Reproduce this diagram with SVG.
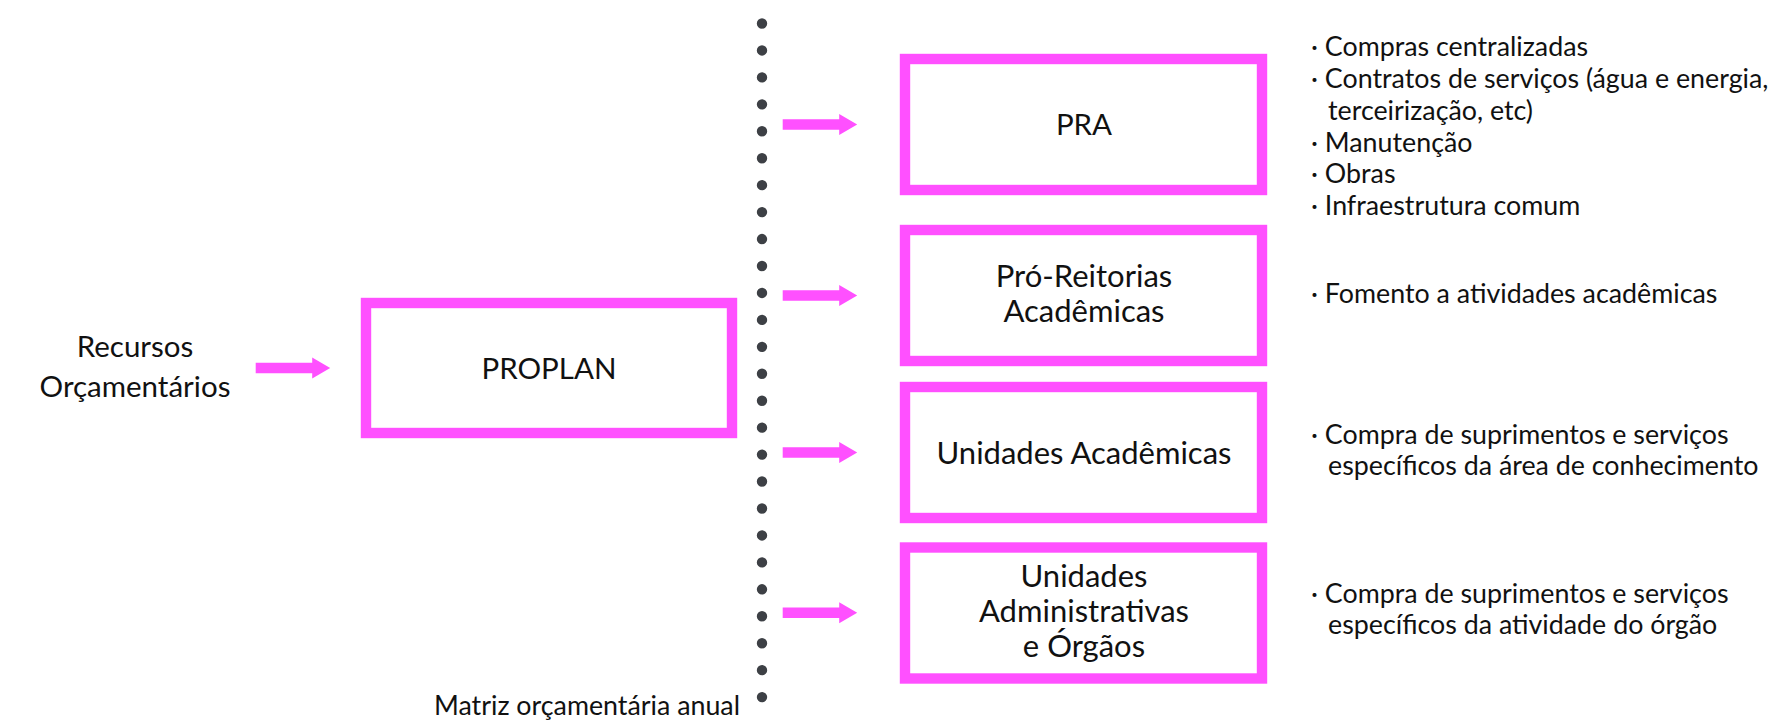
<svg xmlns="http://www.w3.org/2000/svg" xmlns:xlink="http://www.w3.org/1999/xlink" width="1773" height="720" viewBox="0 0 1773 720">
<style>
.box{fill:#ffffff;stroke:#ff50ff;stroke-width:10.4}
.arrow{fill:#ff50ff}
.dots{fill:none;stroke:#3d4045;stroke-width:10.4;stroke-linecap:round;stroke-dasharray:0 26.944}
.lbl{font-family:Lato,"Noto Sans","DejaVu Sans",sans-serif;font-size:31px;fill:#111111;text-anchor:middle}
.caps{font-size:29.5px}
.note{font-family:Lato,"Noto Sans","DejaVu Sans",sans-serif;font-size:26.8px;fill:#111111}
</style>
<defs>
<path id="arr" d="M0,-5.2 H56.5 V-10.5 L74.5,0 L56.5,10.5 V5.2 H0 Z"/>
</defs>
<rect width="1773" height="720" fill="#ffffff"/>
<path class="dots" d="M762,23.5 V697.2"/>
<g id="connectors">
<use href="#arr" xlink:href="#arr" class="arrow" x="255.7" y="368"/>
<use href="#arr" xlink:href="#arr" class="arrow" x="782.7" y="124.5"/>
<use href="#arr" xlink:href="#arr" class="arrow" x="782.7" y="295.5"/>
<use href="#arr" xlink:href="#arr" class="arrow" x="782.7" y="452.5"/>
<use href="#arr" xlink:href="#arr" class="arrow" x="782.7" y="612.7"/>
</g>
<g id="recursos">
<text class="lbl caps" x="135" y="357">Recursos</text>
<text class="lbl caps" x="135" y="397">Orçamentários</text>
</g>
<g id="proplan">
<rect class="box" x="366" y="303" width="366" height="130"/>
<text class="lbl caps" x="549" y="378.5">PROPLAN</text>
</g>
<g id="pra">
<rect class="box" x="905" y="59" width="357" height="131"/>
<text class="lbl caps" x="1084" y="135">PRA</text>
</g>
<g id="pro-reitorias">
<rect class="box" x="905" y="230" width="357" height="131"/>
<text class="lbl" x="1084" y="287">Pró-Reitorias</text>
<text class="lbl" x="1084" y="322">Acadêmicas</text>
</g>
<g id="unidades-academicas">
<rect class="box" x="905" y="387" width="357" height="131"/>
<text class="lbl" x="1084" y="463.5">Unidades Acadêmicas</text>
</g>
<g id="unidades-administrativas">
<rect class="box" x="905" y="547.5" width="357" height="131"/>
<text class="lbl" x="1084" y="587">Unidades</text>
<text class="lbl" x="1084" y="622">Administrativas</text>
<text class="lbl" x="1084" y="657">e Órgãos</text>
</g>
<g id="notes-pra">
<text class="note" x="1311" y="56">· Compras centralizadas</text>
<text class="note" x="1311" y="88">· Contratos de serviços (água e energia,</text>
<text class="note" x="1328" y="119.5">terceirização, etc)</text>
<text class="note" x="1311" y="151.5">· Manutenção</text>
<text class="note" x="1311" y="183">· Obras</text>
<text class="note" x="1311" y="215">· Infraestrutura comum</text>
</g>
<g id="notes-pro">
<text class="note" x="1311" y="303">· Fomento a atividades acadêmicas</text>
</g>
<g id="notes-ua">
<text class="note" x="1311" y="444">· Compra de suprimentos e serviços</text>
<text class="note" x="1328" y="475">específicos da área de conhecimento</text>
</g>
<g id="notes-uad">
<text class="note" x="1311" y="603">· Compra de suprimentos e serviços</text>
<text class="note" x="1328" y="634">específicos da atividade do órgão</text>
</g>
<g id="matriz">
<text class="note" x="740" y="715" text-anchor="end">Matriz orçamentária anual</text>
</g>
</svg>
